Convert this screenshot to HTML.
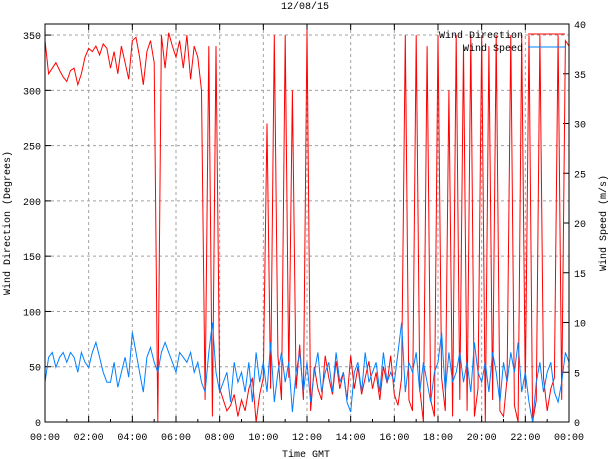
<!DOCTYPE html>
<html><head><meta charset="utf-8"><style>
body{margin:0;background:#fff;}
svg{display:block;font-family:"Liberation Mono",monospace;font-size:10px;}
</style></head><body>
<svg id="c" width="611" height="459">
</svg>
<script>
const hours=[0,2,4,6,8,10,12,14,16,18,20,22,24];
const xTickLabels=["00:00","02:00","04:00","06:00","08:00","10:00","12:00","14:00","16:00","18:00","20:00","22:00","00:00"];
const leftTicks=[0,50,100,150,200,250,300,350];
const rightTicks=[0,5,10,15,20,25,30,35,40];
const direction=[345,315,320,325,318,312,308,318,320,305,315,330,338,335,340,332,342,338,320,335,315,340,325,310,345,348,330,305,335,345,325,0,350,320,352,340,330,345,320,350,310,340,330,300,20,340,5,340,30,20,10,15,25,5,20,10,30,40,0,25,40,270,30,350,60,20,350,40,300,30,70,20,355,10,50,30,20,60,40,25,55,30,45,20,60,30,50,25,40,55,30,45,20,50,35,60,25,15,40,350,20,10,350,30,0,340,20,5,350,40,10,300,5,350,20,340,10,350,5,30,350,0,340,20,350,10,5,40,350,15,0,350,30,350,0,20,350,40,10,30,40,350,20,345,340];
const speed=[4,6.5,7,5.5,6.5,7,6,7,6.5,5,7,6,5.5,7,8,6.5,5,4,4,6,3.5,5,6.5,4.5,9,7,5,3,6.5,7.5,6,5,7,8,7,6,5,7,6.5,6,7,5,6,4,3,7,10,5,3,4,5,2,6,4,5,3,6,2,7,4,6,3,8,2,5,7,4,6,1,5,7,3,6,2,5,7,3,5,6,3,7,4,5,2,1,5,6,3,7,4,5,6,3,7,4,5,4,7,10,3,6,5,7,3,6,4,2,5,6,9,3,7,4,5,7,4,6,3,8,5,4,6,3,7,5,2,6,4,7,5,8,3,5,2,0,4,6,3,5,6,3,2,4,7,6];
const L=45,R=569,T=24,B=422;
const xs=h=>L+h/24*(R-L);
const yl=v=>B-v/360*(B-T);
const yr=v=>B-v/40*(B-T);
const NS="http://www.w3.org/2000/svg";
const svg=document.getElementById('c');
function mk(tag,attrs,parent){const e=document.createElementNS(NS,tag);for(const k in attrs)e.setAttribute(k,attrs[k]);(parent||svg).appendChild(e);return e;}
function txt(x,y,s,anchor,attrs){const e=mk('text',Object.assign({x:x,y:y,'text-anchor':anchor||'middle',fill:'#000'},attrs||{}));e.textContent=s;return e;}
// grid
hours.forEach((h,i)=>{if(i>0&&i<hours.length-1){const g=mk('line',{x1:xs(h),x2:xs(h),y1:T,y2:B,stroke:'#a0a0a0','stroke-dasharray':'3,3'});

}
const t=txt(xs(h),440,xTickLabels[i]);


mk('line',{x1:xs(h),x2:xs(h),y1:B,y2:B-6,stroke:'#000'});mk('line',{x1:xs(h),x2:xs(h),y1:T,y2:T+6,stroke:'#000'});
if(h<24){mk('line',{x1:xs(h+1),x2:xs(h+1),y1:B,y2:B-3,stroke:'#000'});}
});
leftTicks.forEach(v=>{if(v>0){const g=mk('line',{x1:L,x2:R,y1:yl(v),y2:yl(v),stroke:'#a0a0a0','stroke-dasharray':'3,3'});

}
mk('line',{x1:L,x2:L+6,y1:yl(v),y2:yl(v),stroke:'#000'});
const t=txt(L-4,yl(v)+4,String(v),'end');

});
rightTicks.forEach(v=>{mk('line',{x1:R-6,x2:R,y1:yr(v),y2:yr(v),stroke:'#000'});
const t=txt(R+5,yr(v)+4,String(v),'start');

});
// series
const n=direction.length;
const dpts=direction.map((v,i)=>xs(i*24/(n-1)).toFixed(1)+','+yl(v).toFixed(1)).join(' ');
const d=mk('polyline',{points:dpts,fill:'none',stroke:'#ff0000','stroke-width':1});


const m=speed.length;
const spts=speed.map((v,i)=>xs(i*24/(m-1)).toFixed(1)+','+yr(v).toFixed(1)).join(' ');
const s=mk('polyline',{points:spts,fill:'none',stroke:'#0080ff','stroke-width':1});


// frame
const f=mk('rect',{x:L,y:T,width:R-L,height:B-T,fill:'none',stroke:'#000'});


// legend
let t=txt(523,38,'Wind Direction','end');


mk('line',{x1:528,x2:565,y1:34,y2:34,stroke:'#ff0000'});
t=txt(523,51,'Wind Speed','end');


mk('line',{x1:528,x2:565,y1:47,y2:47,stroke:'#0080ff'});
// titles
t=txt(305,9,'12/08/15');


t=txt(306,457,'Time GMT');


t=txt(0,0,'Wind Direction (Degrees)','middle',{transform:'translate(10,223) rotate(-90)'});


t=txt(0,0,'Wind Speed (m/s)','middle',{transform:'translate(606,223) rotate(-90)'});


</script>
</body></html>
